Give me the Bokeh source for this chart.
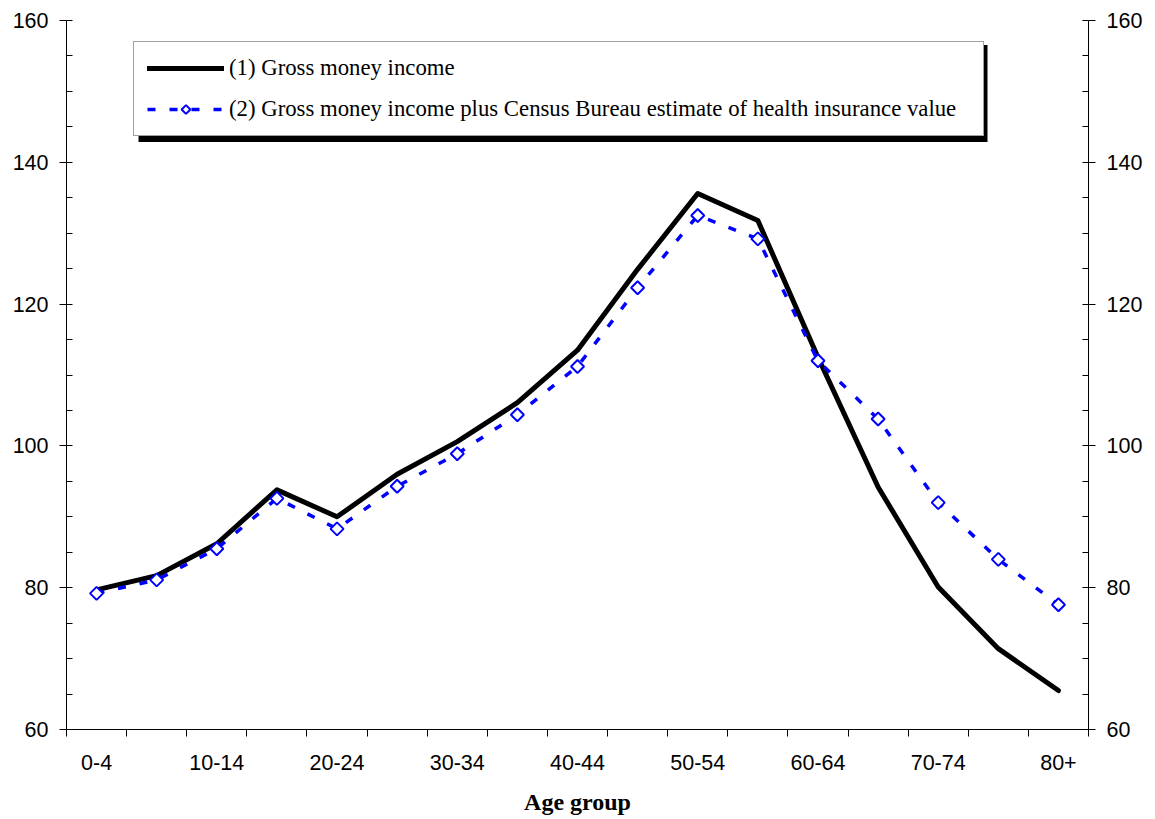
import numpy as np
from bokeh.plotting import figure
from bokeh.models import (LinearAxis, FixedTicker, Range1d, Legend, LegendItem,
                          BoxAnnotation, ColumnDataSource)
from bokeh.embed import file_html
from bokeh.resources import INLINE

# ---- data ----
categories = ["0-4", "5-9", "10-14", "15-19", "20-24", "25-29", "30-34", "35-39",
              "40-44", "45-49", "50-54", "55-59", "60-64", "65-69", "70-74", "75-79", "80+"]
gross_money_income = [79.7, 81.7, 86.2, 93.8, 90.0, 96.0, 100.6, 106.1, 113.5,
                      124.9, 135.6, 131.8, 112.5, 94.2, 80.1, 71.4, 65.5]
gross_plus_health = [79.2, 81.1, 85.5, 92.6, 88.3, 94.3, 98.9, 104.4, 111.2,
                     122.3, 132.5, 129.2, 112.0, 103.8, 92.0, 84.0, 77.6]
y_ticks = [60, 80, 100, 120, 140, 160]
label1 = "(1) Gross money income"
label2 = "(2) Gross money income plus Census Bureau estimate of health insurance value"
x_title = "Age group"

n = len(categories)
x = list(range(n))
src = ColumnDataSource(dict(x=x, g=gross_money_income, h=gross_plus_health, cat=categories))

p = figure(frame_width=1022, frame_height=709, output_backend="svg", toolbar_location=None,
           x_range=Range1d(-0.5, n - 0.5), y_range=Range1d(60, 160),
           min_border_left=66, min_border_top=20, min_border_right=60, min_border_bottom=80,
           x_axis_type=None, y_axis_type=None)
p.outline_line_color = None
p.background_fill_color = "white"
p.border_fill_color = "white"

# shadow of legend box (drawn first, sits beneath the legend)
shadow = BoxAnnotation(left=0.698, right=14.82, top=156.54, bottom=142.86,
                       fill_color="black", fill_alpha=1.0, line_color=None, level="annotation")
p.add_layout(shadow)

# x axis
xt = FixedTicker(ticks=list(range(0, n, 2)), minor_ticks=[i - 0.5 for i in range(n + 1)])
xaxis = LinearAxis(ticker=xt, axis_label=x_title)
xaxis.major_label_overrides = {i: categories[i] for i in range(0, n, 2)}
xaxis.major_tick_out = 0
xaxis.major_tick_in = 0
xaxis.minor_tick_out = 7
xaxis.minor_tick_in = 0
xaxis.major_label_standoff = 18
xaxis.major_label_text_font = "Liberation Sans"
xaxis.major_label_text_font_size = "21.5px"
xaxis.major_label_text_color = "black"
xaxis.axis_label_text_font = "Liberation Serif"
xaxis.axis_label_text_font_style = "bold"
xaxis.axis_label_text_font_size = "24px"
xaxis.axis_label_text_color = "black"
xaxis.axis_label_standoff = 16
xaxis.axis_line_color = "black"
xaxis.minor_tick_line_color = "black"
p.add_layout(xaxis, "below")

# y axes
yt = FixedTicker(ticks=y_ticks, minor_ticks=list(range(60, 161, 5)))
for side in ("left", "right"):
    ax = LinearAxis(ticker=yt)
    ax.major_tick_out = 7
    ax.major_tick_in = 0
    ax.minor_tick_out = 0
    ax.minor_tick_in = 6
    ax.major_label_standoff = 11
    ax.major_label_text_font = "Liberation Sans"
    ax.major_label_text_font_size = "21.5px"
    ax.major_label_text_color = "black"
    ax.axis_line_color = "black"
    ax.major_tick_line_color = "black"
    ax.minor_tick_line_color = "black"
    p.add_layout(ax, side)

p.xgrid.visible = False
p.ygrid.ticker = yt
p.ygrid.grid_line_color = "#505050"
p.ygrid.grid_line_width = 1

r1 = p.line("x", "g", source=src, line_color="black", line_width=5,
            line_cap="round", line_join="round")
r2 = p.line("x", "h", source=src, line_color="#0000FF", line_width=3.5, line_dash="8 14")
if hasattr(p, "ngon"):
    r3 = p.ngon(x="x", y="h", source=src, radius=6.5, radius_units="screen", n=4,
                line_color="#0000FF", line_width=2, fill_color="white")
else:
    r3 = p.scatter("x", "h", source=src, marker="diamond", size=14,
                   line_color="#0000FF", line_width=2, fill_color="white")

legend = Legend(items=[LegendItem(label=label1, renderers=[r1]),
                       LegendItem(label=label2, renderers=[r2, r3])],
                location=(67, 593))
legend.margin = 0
legend.padding = 13
legend.spacing = 15
legend.glyph_width = 77
legend.glyph_height = 22
legend.label_height = 22
legend.label_width = 741
legend.label_standoff = 5
legend.label_text_font = "Liberation Serif"
legend.label_text_font_size = "22.75px"
legend.label_text_color = "black"
legend.border_line_color = "#444444"
legend.border_line_width = 1
legend.background_fill_color = "white"
legend.background_fill_alpha = 1.0
p.add_layout(legend, "center")

open("out.html", "w").write(file_html(p, INLINE))
